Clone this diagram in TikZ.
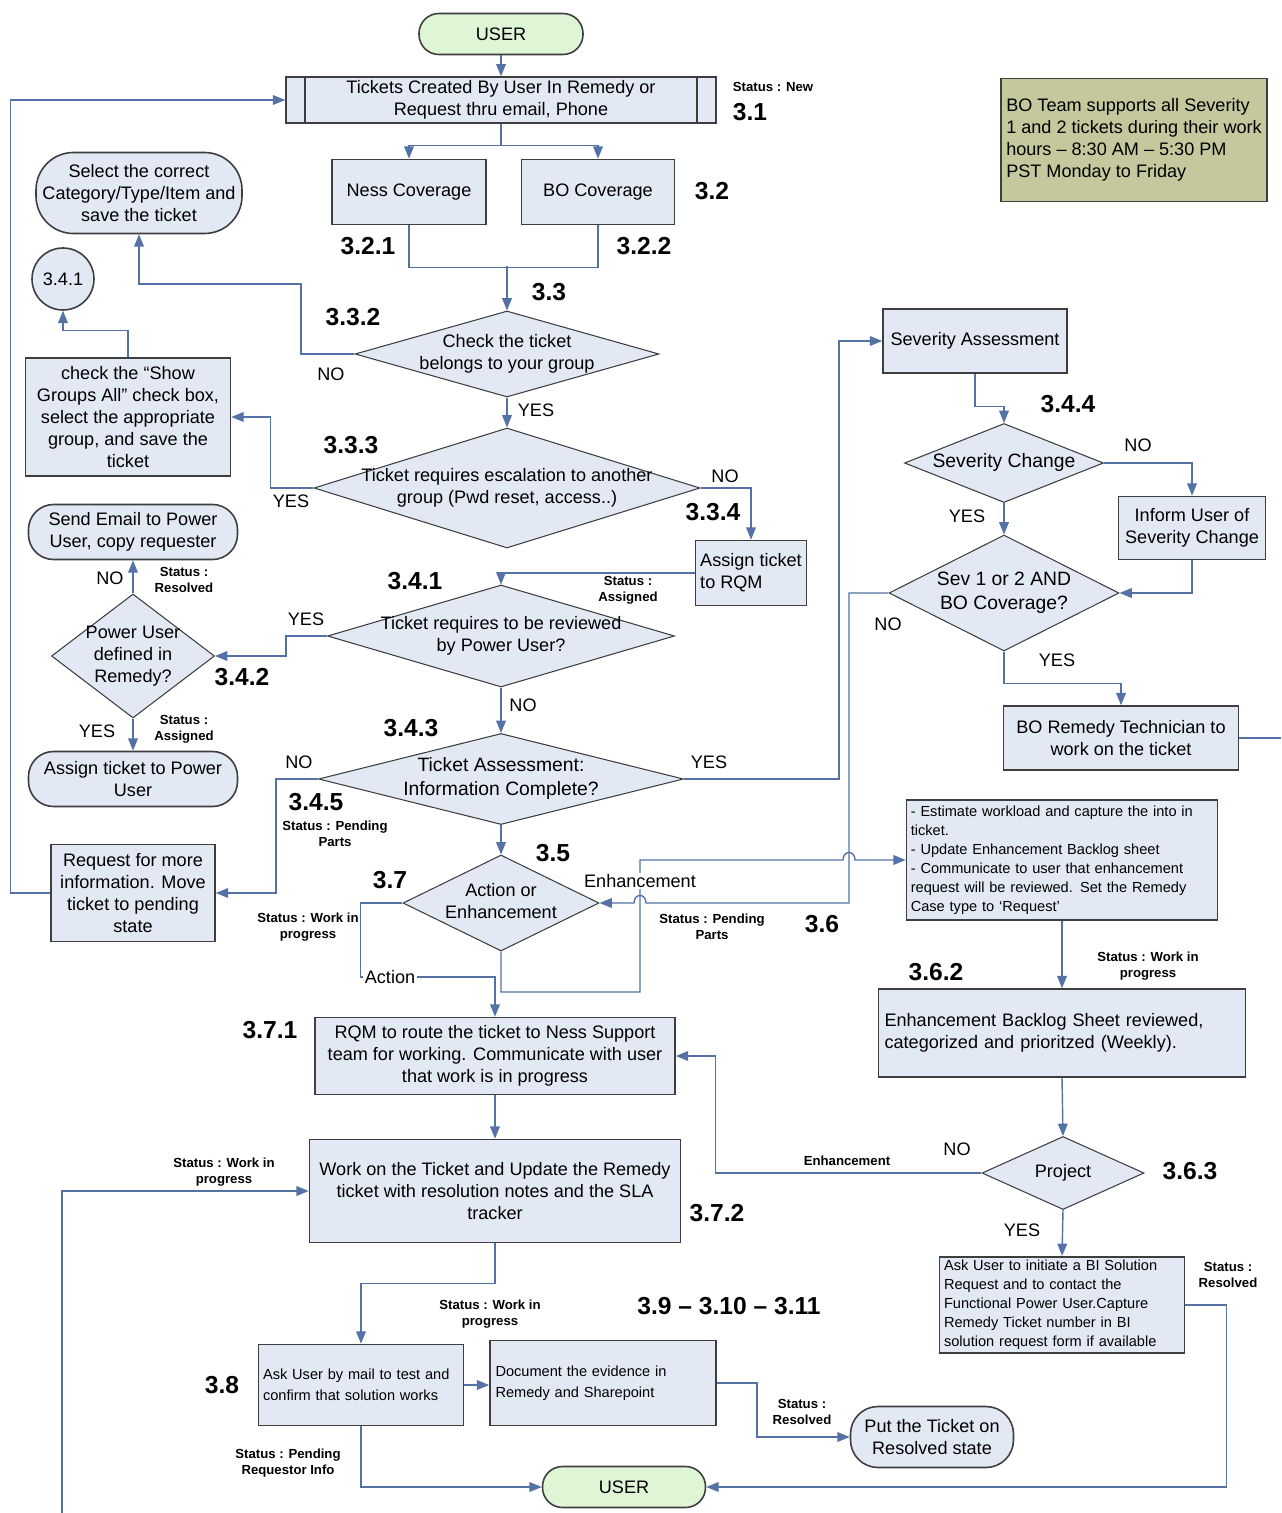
\documentclass[tikz,border=0pt]{standalone}
\usepackage{fontspec}
\setmainfont{Liberation Sans}
\usetikzlibrary{shapes.geometric,arrows.meta}
\definecolor{boxfill}{RGB}{226,233,245}
\definecolor{userfill}{RGB}{222,245,214}
\definecolor{notefill}{RGB}{196,200,156}
\definecolor{linkcol}{RGB}{84,114,166}
\definecolor{edgecol}{RGB}{62,62,62}
\newcommand\dtxt[1]{\makebox[0pt]{\begin{tabular}{@{}c@{}}#1\end{tabular}}}
\begin{document}
\begin{tikzpicture}[x=0.02cm,y=-0.02cm,
  wh/.style 2 args={minimum width=#1*0.02cm,minimum height=#2*0.02cm},
  box/.style={draw=edgecol,line width=0.9pt,fill=boxfill,align=center,inner sep=2pt,
    font=\fontsize{10.3}{12.4}\selectfont},
  small/.style={font=\fontsize{8.3}{10.8}\selectfont},
  oval/.style={box,rounded corners=#1},
  usr/.style={box,fill=userfill,rounded corners=0.4cm},
  dia/.style={diamond,draw=edgecol,line width=0.6pt,fill=boxfill,inner sep=0pt,
    font=\fontsize{10.3}{12.4}\selectfont},
  conn/.style={draw=linkcol,line width=0.8pt,-{Triangle[length=7pt,width=5.5pt]}},
  link/.style={draw=linkcol,line width=0.8pt},
  num/.style={font=\fontsize{14}{16}\selectfont\bfseries,inner sep=0pt},
  stat/.style={font=\fontsize{7.5}{9}\selectfont\bfseries,align=center,inner sep=0pt},
  yn/.style={font=\fontsize{10.3}{12}\selectfont,inner sep=0pt}]
\path[fill=white,use as bounding box] (0,0) rectangle (1281,1513);

% main column
\node[usr,wh={164}{41}] (user) at (501,34) {USER};
\node[box,wh={430}{41}] (tkt) at (501,100) {Tickets Created By User In Remedy or\\Request thru email, Phone};
\draw[edgecol,line width=0.9pt] ([xshift=0.4cm]tkt.north west) -- ([xshift=0.4cm]tkt.south west);
\draw[edgecol,line width=0.9pt] ([xshift=-0.4cm]tkt.north east) -- ([xshift=-0.4cm]tkt.south east);
\node[box,wh={154}{65}] (ness) at (409,192) {Ness Coverage};
\node[box,wh={153}{65}] (bo) at (598,192) {BO Coverage};
\node[box,fill=notefill,wh={266}{123},align=left] (boteam) at (1134,140)
  {BO Team supports all Severity\\1 and 2 tickets during their work\\hours – 8:30 AM – 5:30 PM\\PST Monday to Friday};
\coordinate (join) at (507,266);
\node[dia,wh={304}{86}] (chk) at (507,354) {\dtxt{Check the ticket\\belongs to your group}};
\node[oval=0.75cm,wh={206}{81}] (selcat) at (139,193) {Select the correct\\Category/Type/Item and\\save the ticket};
\node[box,circle,minimum size=1.24cm,inner sep=0pt] (c341) at (63,279) {3.4.1};
\node[box,wh={205}{118}] (showgrp) at (128,417)
  {check the “Show\\Groups All” check box,\\select the appropriate\\group, and save the\\ticket};
\node[dia,wh={386}{120}] (esc) at (507,488) {\dtxt{Ticket requires escalation to another\\group (Pwd reset, access..)}};
\node[box,wh={111}{65},align=left] (rqm) at (751,573) {Assign ticket\\to RQM};
\node[dia,wh={347}{102}] (review) at (501,636) {\dtxt{Ticket requires to be reviewed\\by Power User?}};
\node[dia,wh={163}{124}] (pwr) at (133,656) {\dtxt{Power User\\defined in\\Remedy?}};
\node[oval=0.5cm,wh={209}{55}] (email) at (133,532) {Send Email to Power\\User, copy requester};
\node[oval=0.5cm,wh={209}{55}] (asgpwr) at (133,779) {Assign ticket to Power\\User};
\node[dia,wh={365}{91},font=\fontsize{11}{13.5}\selectfont] (assess) at (501,779)
  {\dtxt{Ticket Assessment:\\Information Complete?}};
\node[box,wh={164}{97}] (reqinfo) at (133,893) {Request for more\\information. Move\\ticket to pending\\state};
\node[dia,wh={196}{96}] (actenh) at (501,903) {\dtxt{Action or\\Enhancement}};

% severity branch
\node[box,wh={184}{64}] (sevass) at (975,341) {Severity Assessment};
\node[dia,wh={199}{79},font=\fontsize{11}{13.5}\selectfont] (sevchg) at (1004,463) {\dtxt{Severity Change}};
\node[box,wh={147}{63}] (inform) at (1192,528) {Inform User of\\Severity Change};
\node[dia,wh={230}{116},font=\fontsize{11}{13.5}\selectfont] (sevbo) at (1004,593) {\dtxt{Sev 1 or 2 AND\\BO Coverage?}};
\node[box,wh={235}{64}] (botech) at (1121,738) {BO Remedy Technician to\\work on the ticket};
\coordinate (rim) at (1281,0);

% enhancement branch
\node[box,small,wh={311}{120},text width=6.05cm,align=left] (enhtask) at (1062,860)
  {- Estimate workload and capture the into in\\ticket.\\- Update Enhancement Backlog sheet\\- Communicate to user that enhancement\\request will be reviewed. Set the Remedy\\Case type to ‘Request’};
\node[box,wh={367}{88},text width=7.1cm,align=left] (backlog) at (1062,1033)
  {Enhancement Backlog Sheet reviewed,\\categorized and prioritzed (Weekly).};
\node[dia,wh={162}{73}] (proj) at (1063,1173) {\dtxt{Project}};
\node[box,small,wh={245}{95},text width=4.72cm,align=left] (biask) at (1062,1305)
  {Ask User to initiate a BI Solution\\Request and to contact the\\Functional Power User.Capture\\Remedy Ticket number in BI\\solution request form if available};

% work and closure
\node[box,wh={360}{77}] (rqmroute) at (495,1056)
  {RQM to route the ticket to Ness Support\\team for working. Communicate with user\\that work is in progress};
\node[box,wh={371}{103}] (work) at (495,1191)
  {Work on the Ticket and Update the Remedy\\ticket with resolution notes and the SLA\\tracker};
\coordinate (foot) at (62,1513);
\node[box,wh={205}{81},text width=3.92cm,align=left,font=\fontsize{8.3}{11.8}\selectfont] (askmail) at (361,1385)
  {Ask User by mail to test and\\confirm that solution works};
\node[box,wh={226}{85},text width=4.3cm,align=left,font=\fontsize{8.3}{11.8}\selectfont] (doc) at (603,1383)
  {Document the evidence in\\Remedy and Sharepoint};
\node[oval=0.55cm,wh={163}{61}] (resolved) at (932,1437) {Put the Ticket on\\Resolved state};
\node[usr,wh={163}{41}] (userend) at (624,1487) {USER};

% connectors
\draw[conn] (user) -- (tkt);
\draw[conn] (tkt.south) -- ++(0,22) -| (ness.north);
\draw[conn] (tkt.south) -- ++(0,22) -| (bo.north);
\draw[link] (ness.south) -- ++(0,42) -| (bo.south);
\draw[conn] (join) -- (chk.north);
\draw[conn] (chk.west) -| (301,284) -| (selcat.south);
\draw[conn] (showgrp.north) -- ++(0,-27) -| (c341.south);
\draw[conn] (chk.south) -- (esc.north);
\draw[conn] (esc.west) -- ++(-43,0) |- (showgrp.east);
\draw[conn] (esc.east) -| (rqm.north);
\draw[conn] (rqm.west) -| (review.north);
\draw[conn] (review.west) -- ++(-41,0) |- (pwr.east);
\draw[conn] (pwr.north) -- (email.south);
\draw[conn] (pwr.south) -- (asgpwr.north);
\draw[conn] (review.south) -- (assess.north);
\draw[conn] (assess.west) -- ++(-42,0) |- (reqinfo.east);
\draw[conn] (reqinfo.west) -- ++(-40,0) |- (tkt.west);
\draw[conn] (assess.east) -- ++(155,0) |- (sevass.west);
\draw[conn] (assess.south) -- (actenh.north);
\draw[conn] (sevass.south) -- ++(0,33) -| (sevchg.north);
\draw[conn] (sevchg.east) -| (inform.north);
\draw[conn] (sevchg.south) -- (sevbo.north);
\draw[conn] (inform.south) |- (sevbo.east);
\draw[conn] (sevbo.south) -- ++(0,32) -| (botech.north);
\draw[link] (botech.east) -- (botech.east -| rim);
\draw[conn] (sevbo.west) -| (849,903) -- (646,903) .. controls (646,893) and (634,893) .. (634,903) -- (actenh.east);
\draw[conn] (actenh.south) |- (640,992) -- (640,860) -- (843,860) .. controls (843,850) and (855,850) .. (855,860) -- (enhtask.west);
\draw[conn] (actenh.west) -- ++(-42,0) -- ++(0,74) -| (rqmroute.north);
\draw[conn] (enhtask.south) -- (backlog.north);
\draw[conn] (backlog.south) -- (proj.north);
\draw[conn] (proj.west) -- ++(-266,0) |- (rqmroute.east);
\draw[conn] (proj.south) -- (biask.north);
\draw[conn] (rqmroute.south) -- (work.north);
\draw[conn] (foot) |- (work.west);
\draw[conn] (work.south) -- ++(0,40) -| (askmail.north);
\draw[conn] (askmail.east) -- (askmail.east -| doc.west);
\draw[conn] (doc.east) -- ++(40,0) |- (resolved.west);
\draw[conn] (askmail.south) |- (userend.west);
\draw[conn] (biask.east) -- ++(41,0) |- (userend.east);

% step numbers
\node[num] (n31) at (750,112) {3.1};
\node[num] (n32) at (712,191) {3.2};
\node[num] (n321) at (368,246) {3.2.1};
\node[num] (n322) at (644,246) {3.2.2};
\node[num] (n33) at (549,292) {3.3};
\node[num] (n332) at (353,317) {3.3.2};
\node[num] (n333) at (351,445) {3.3.3};
\node[num] (n334) at (713,512) {3.3.4};
\node[num] (n341) at (415,581) {3.4.1};
\node[num] (n342) at (242,677) {3.4.2};
\node[num] (n343) at (411,728) {3.4.3};
\node[num] (n344) at (1068,404) {3.4.4};
\node[num] (n345) at (316,802) {3.4.5};
\node[num] (n35) at (553,853) {3.5};
\node[num] (n36) at (822,924) {3.6};
\node[num] (n362) at (936,972) {3.6.2};
\node[num] (n363) at (1190,1171) {3.6.3};
\node[num] (n37) at (390,880) {3.7};
\node[num] (n371) at (270,1030) {3.7.1};
\node[num] (n372) at (717,1213) {3.7.2};
\node[num] (n38) at (222,1385) {3.8};
\node[num] (n39) at (729,1306) {3.9 – 3.10 – 3.11};

% branch answers
\node[yn] (no1) at (331,374) {NO};
\node[yn] (yes1) at (536,410) {YES};
\node[yn] (yes2) at (291,501) {YES};
\node[yn] (no2) at (725,476) {NO};
\node[yn] (yes3) at (306,619) {YES};
\node[yn] (no3) at (110,578) {NO};
\node[yn] (yes4) at (97,731) {YES};
\node[yn] (no4) at (523,705) {NO};
\node[yn] (no5) at (299,762) {NO};
\node[yn] (yes5) at (709,762) {YES};
\node[yn] (no6) at (1138,445) {NO};
\node[yn] (yes6) at (967,516) {YES};
\node[yn] (no7) at (888,624) {NO};
\node[yn] (yes7) at (1057,660) {YES};
\node[yn] (no8) at (957,1149) {NO};
\node[yn] (yes8) at (1022,1230) {YES};
\node[yn,fill=white,inner sep=1pt] (enhlbl) at (640,881) {Enhancement};
\node[yn,fill=white,inner sep=1pt] (actlbl) at (390,977) {Action};
\node[stat] (enhlbl2) at (847,1161) {Enhancement};

% ticket status notes
\node[stat] (s1) at (773,87) {Status : New};
\node[stat] (s2) at (628,590) {Status :\\Assigned};
\node[stat] (s3) at (184,580) {Status :\\Resolved};
\node[stat] (s4) at (184,729) {Status :\\Assigned};
\node[stat] (s5) at (335,834) {Status : Pending\\Parts};
\node[stat] (s6) at (308,927) {Status : Work in\\progress};
\node[stat] (s7) at (712,927) {Status : Pending\\Parts};
\node[stat] (s8) at (1148,966) {Status : Work in\\progress};
\node[stat] (s9) at (224,1172) {Status : Work in\\progress};
\node[stat] (s10) at (1228,1275) {Status :\\Resolved};
\node[stat] (s11) at (490,1314) {Status : Work in\\progress};
\node[stat] (s12) at (802,1412) {Status :\\Resolved};
\node[stat] (s13) at (288,1463) {Status : Pending\\Requestor Info};
\end{tikzpicture}
\end{document}
